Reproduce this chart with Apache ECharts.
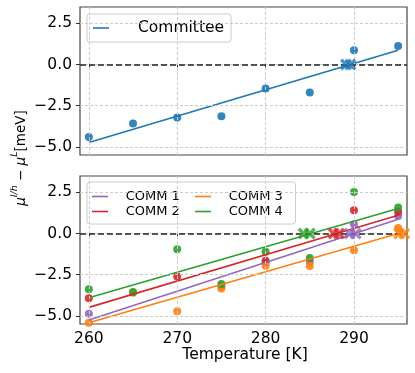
<!DOCTYPE html>
<html>
<head>
<meta charset="utf-8">
<script src="https://cdn.jsdelivr.net/npm/echarts@6/dist/echarts.min.js"></script>
<style>
  html, body { margin: 0; padding: 0; background: #fff; }
  #chart { width: 415px; height: 373px; }
</style>
</head>
<body>
<div id="chart"></div>
<script>
// sampled temperatures (K)
const temps = [260, 265, 270, 275, 280, 285, 290, 295]
const xTicks = [260, 270, 280, 290]
const yTicks = [-5, -2.5, 0, 2.5]

// top panel
const committee = [-4.40, -3.59, -3.22, -3.14, -1.46, -1.70, 0.87, 1.13]
const fitT = [260, 295]
const committeeFit = [-4.74, 0.87]
const committeeRoots = [289.1, 289.6]

// bottom panel
const comm1 = [-4.88, null, null, -3.2, -1.76, -1.70, 0.57, 1.07]
const comm2 = [-3.93, null, -2.61, null, -1.66, null, 1.42, 1.32]
const comm3 = [-5.43, -3.6, -4.72, -3.34, -1.96, -1.98, -1.01, 0.34]
const comm4 = [-3.38, -3.55, -0.95, -3.06, -1.11, -1.48, 2.53, 1.58]
const comm1Fit = [-5.26, 0.87]
const comm2Fit = [-4.49, 1.11]
const comm3Fit = [-5.43, 0.0]
const comm4Fit = [-3.9, 1.52]
const comm1Roots = [289.5, 290.2]
const comm2Roots = [287.7, 288.3]
const comm3Roots = [295.1, 295.7]
const comm4Roots = [284.3, 285.0]

const FONT = 'DejaVu Sans'
const X_MARK = 'path://M0,2 L2,0 L5,3 L8,0 L10,2 L7,5 L10,8 L8,10 L5,7 L2,10 L0,8 L3,5 Z'
const LINE_ICON = 'path://M0,0 L10,0 L10,1 L0,1 Z'

const pts = vals => temps.map((t, i) => [t, vals[i]]).filter(p => p[1] !== null)
const fitPts = vals => fitT.map((t, i) => [t, vals[i]])
const rootPts = ts => ts.map(t => [t, 0])

function fmt(v) {
  return (v < 0 ? '\u2212' : '') + Math.abs(v).toFixed(1)
}

function xAxisCfg(idx, showLabel) {
  return {
    type: 'value', gridIndex: idx, min: 259, max: 296,
    splitLine: { show: false },
    axisLine: { show: false },
    axisTick: { show: true, customValues: xTicks, length: 4, lineStyle: { color: '#333' } },
    axisLabel: {
      show: showLabel, customValues: xTicks, margin: 7,
      fontFamily: FONT, fontSize: 15.5, color: '#000'
    }
  }
}

function yAxisCfg(idx) {
  return {
    type: 'value', gridIndex: idx, min: -5.5, max: 3.5,
    splitLine: { show: false },
    axisLine: { show: false },
    axisTick: { show: true, customValues: yTicks, length: 4, lineStyle: { color: '#333' } },
    axisLabel: {
      customValues: yTicks, margin: 8, formatter: fmt,
      fontFamily: FONT, fontSize: 15.5, color: '#000'
    }
  }
}

// background grid lines as markLines
function gridSeries(idx) {
  return {
    type: 'line', xAxisIndex: idx, yAxisIndex: idx, data: [], z: 0, silent: true,
    markLine: {
      symbol: ['none', 'none'], silent: true, animation: false,
      label: { show: false },
      lineStyle: { color: '#cccccc', type: [3, 2], width: 1 },
      data: xTicks.map(v => ({ xAxis: v })).concat(yTicks.map(v => ({ yAxis: v })))
    }
  }
}

function zeroSeries(idx) {
  return {
    type: 'line', xAxisIndex: idx, yAxisIndex: idx, data: [], z: 2, silent: true,
    markLine: {
      symbol: ['none', 'none'], silent: true, animation: false,
      label: { show: false },
      lineStyle: { color: '#222', type: [6, 3], width: 1.5 },
      data: [{ yAxis: 0 }]
    }
  }
}

function group(idx, name, color, vals, fit, roots) {
  return [
    {
      name: name + ' pts', type: 'scatter', xAxisIndex: idx, yAxisIndex: idx,
      data: pts(vals), symbolSize: 8, itemStyle: { color: color, opacity: 0.9 }, z: 3
    },
    {
      name: name, type: 'line', xAxisIndex: idx, yAxisIndex: idx,
      data: fitPts(fit), symbol: 'none', lineStyle: { color: color, width: 1.6 },
      itemStyle: { color: color }, z: 4
    },
    {
      name: name + ' root', type: 'scatter', xAxisIndex: idx, yAxisIndex: idx,
      data: rootPts(roots), symbol: X_MARK, symbolSize: 12,
      itemStyle: { color: color }, z: 5
    }
  ]
}

// extra gap between legend line and its label
const padName = name => ' \u2009' + name
const padNameTop = name => '  \u2009\u2009' + name

const chart = echarts.init(document.getElementById('chart'), null, { renderer: 'canvas' })

chart.setOption({
  animation: false,
  backgroundColor: '#fff',
  textStyle: { fontFamily: FONT },
  grid: [
    { left: 80, right: 8, top: 7, height: 148, show: true, borderColor: '#444', borderWidth: 1.2, backgroundColor: 'transparent' },
    { left: 80, right: 8, top: 176, height: 148, show: true, borderColor: '#444', borderWidth: 1.2, backgroundColor: 'transparent' }
  ],
  xAxis: [xAxisCfg(0, false), xAxisCfg(1, true)],
  yAxis: [yAxisCfg(0), yAxisCfg(1)],
  legend: [
    {
      data: ['Committee'], left: 87, top: 14, padding: [6, 7, 6, 6],
      icon: LINE_ICON, itemWidth: 32, itemHeight: 1.6, formatter: padNameTop,
      borderColor: '#cccccc', borderWidth: 1, borderRadius: 3,
      backgroundColor: 'rgba(255,255,255,0.8)',
      textStyle: { fontFamily: FONT, fontSize: 15.5, lineHeight: 16, color: '#000' }
    },
    {
      data: ['COMM 1', 'COMM 2'], orient: 'vertical', left: 92, top: 189, padding: 0,
      icon: LINE_ICON, itemGap: 0, itemWidth: 28, itemHeight: 1.6, formatter: padName,
      textStyle: { fontFamily: FONT, fontSize: 13, lineHeight: 15, color: '#000' }
    },
    {
      data: ['COMM 3', 'COMM 4'], orient: 'vertical', left: 195, top: 189, padding: 0,
      icon: LINE_ICON, itemGap: 0, itemWidth: 28, itemHeight: 1.6, formatter: padName,
      textStyle: { fontFamily: FONT, fontSize: 13, lineHeight: 15, color: '#000' }
    }
  ],
  graphic: [
    {
      type: 'rect', left: 86.5, top: 181.5, z: 1,
      shape: { width: 208.5, height: 42, r: 3 },
      style: { fill: 'rgba(255,255,255,0.8)', stroke: '#cccccc', lineWidth: 1 }
    },
    {
      type: 'text', x: 245, y: 355, z: 100,
      style: {
        text: 'Temperature [K]', fontFamily: FONT, fontSize: 15.5, fill: '#000',
        textAlign: 'center', textVerticalAlign: 'middle'
      }
    },
    {
      type: 'text', x: 19, y: 158, rotation: Math.PI / 2, z: 100,
      style: {
        text: '{m|\u03bc}{s|l/h}{t| \u2212 }{m|\u03bc}{s|L}{t|[meV]}',
        fontFamily: FONT, fontSize: 13.5, fill: '#000',
        textAlign: 'center', textVerticalAlign: 'middle',
        rich: {
          m: { fontFamily: FONT, fontSize: 13.5, fontStyle: 'italic', lineHeight: 18, verticalAlign: 'bottom' },
          s: { fontFamily: FONT, fontSize: 9.5, fontStyle: 'italic', lineHeight: 18, verticalAlign: 'top' },
          t: { fontFamily: FONT, fontSize: 13.5, lineHeight: 18, verticalAlign: 'bottom' }
        }
      }
    }
  ],
  series: [
    gridSeries(0),
    gridSeries(1),
    zeroSeries(0),
    zeroSeries(1),
    ...group(0, 'Committee', '#1f77b4', committee, committeeFit, committeeRoots),
    ...group(1, 'COMM 1', '#9467bd', comm1, comm1Fit, comm1Roots),
    ...group(1, 'COMM 2', '#d62728', comm2, comm2Fit, comm2Roots),
    ...group(1, 'COMM 3', '#ff7f0e', comm3, comm3Fit, comm3Roots),
    ...group(1, 'COMM 4', '#2ca02c', comm4, comm4Fit, comm4Roots)
  ]
})
</script>
</body>
</html>
